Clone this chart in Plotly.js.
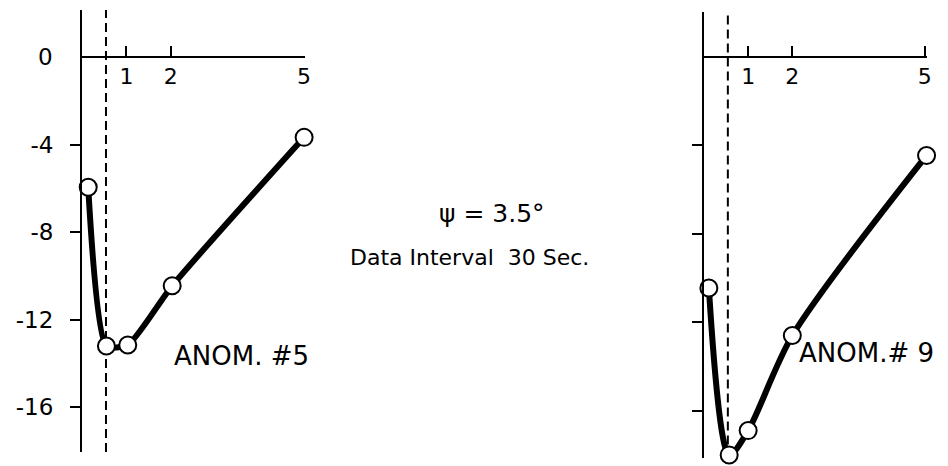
<!DOCTYPE html>
<html>
<head>
<meta charset="utf-8">
<script src="https://cdn.plot.ly/plotly-3.0.1.min.js"></script>
<style>html,body{margin:0;padding:0;background:#fff;}#chart{width:948px;height:466px;}</style>
</head>
<body>
<div id="chart"></div>
<script>
// Data
const xTickVals = [1, 2, 5];
const xTickText = ['1', '2', '5'];
const yTickVals = [-4, -8, -12, -16];
const yTickText = ['-4', '-8', '-12', '-16'];
const dashedAt = 0.54;

const xAnom5 = [0.14, 0.55, 1.03, 2.03, 5.0];
const yAnom5 = [-5.95, -13.2, -13.15, -10.45, -3.67];
const xAnom9 = [0.11, 0.57, 1.0, 2.0, 5.04];
const yAnom9 = [-10.45, -18.0, -16.9, -12.6, -4.45];

const labelAnom5 = 'ANOM. #5';
const labelAnom9 = 'ANOM.# 9';
const titleLine1 = 'ψ = 3.5°';
const titleLine2 = 'Data Interval  30 Sec.';

const W = 948, H = 466;
const FONT = 'DejaVu Sans, sans-serif';
const px = v => v / W;
const py = v => 1 - v / H;

function series(x, y, xa, ya, smooth) {
  return {
    x: x, y: y, xaxis: xa, yaxis: ya,
    type: 'scatter', mode: 'lines+markers',
    line: {color: '#000', width: 6, shape: 'spline', smoothing: smooth},
    marker: {symbol: 'circle', size: 17, color: '#fff', line: {color: '#000', width: 2}},
    cliponaxis: false, hoverinfo: 'skip', showlegend: false
  };
}

const xCommon = {
  anchor: 'free', position: py(57),
  showline: true, linecolor: '#000', linewidth: 2,
  ticks: 'inside', ticklen: 10, tickwidth: 2, tickcolor: '#000',
  tickvals: xTickVals, ticktext: xTickText,
  tickfont: {family: FONT, size: 22, color: '#000'},
  showgrid: false, zeroline: false, fixedrange: true
};
const yCommon = {
  showline: true, linecolor: '#000', linewidth: 2,
  ticks: 'outside', ticklen: 10, tickwidth: 2, tickcolor: '#000',
  tickvals: yTickVals, ticktext: yTickText,
  tickfont: {family: FONT, size: 23, color: '#000'},
  ticklabelstandoff: 12,
  showgrid: false, zeroline: false, fixedrange: true
};

const layout = {
  width: W, height: H,
  margin: {l: 0, r: 0, t: 0, b: 0},
  paper_bgcolor: '#fff', plot_bgcolor: 'rgba(0,0,0,0)',
  showlegend: false,
  xaxis: Object.assign({}, xCommon, {domain: [px(82), px(305)], range: [0, 5.02]}),
  yaxis: Object.assign({}, yCommon, {domain: [py(452), py(10)], range: [-18.04, 2.146], anchor: 'x'}),
  xaxis2: Object.assign({}, xCommon, {domain: [px(704), px(927)], range: [0, 5.05]}),
  yaxis2: Object.assign({}, yCommon, {domain: [py(458), py(12)], range: [-18.14, 2.04], anchor: 'x2', showticklabels: false}),
  shapes: [
    {type: 'line', xref: 'x', yref: 'y domain', x0: dashedAt, x1: dashedAt, y0: 0, y1: 1,
     line: {color: '#000', width: 2, dash: '9px,5px'}, layer: 'below'},
    {type: 'line', xref: 'x2', yref: 'y2 domain', x0: dashedAt, x1: dashedAt, y0: 0.03, y1: 1,
     line: {color: '#000', width: 2, dash: '9px,5px'}, layer: 'below'}
  ],
  annotations: [
    {text: '0', xref: 'paper', yref: 'y', x: px(55), y: 0, xanchor: 'right', yanchor: 'middle',
     showarrow: false, font: {family: FONT, size: 23, color: '#000'}},
    {text: labelAnom5, xref: 'paper', yref: 'paper', x: px(172), y: py(356), xanchor: 'left', yanchor: 'middle',
     showarrow: false, font: {family: FONT, size: 26, color: '#000'}},
    {text: labelAnom9, xref: 'paper', yref: 'paper', x: px(797), y: py(353), xanchor: 'left', yanchor: 'middle',
     showarrow: false, font: {family: FONT, size: 26, color: '#000'}},
    {text: titleLine1, xref: 'paper', yref: 'paper', x: px(492), y: py(213), xanchor: 'center', yanchor: 'middle',
     showarrow: false, font: {family: FONT, size: 25, color: '#000'}},
    {text: titleLine2, xref: 'paper', yref: 'paper', x: px(469), y: py(257), xanchor: 'center', yanchor: 'middle',
     showarrow: false, font: {family: FONT, size: 22, color: '#000'}}
  ]
};

Plotly.newPlot('chart', [
  series(xAnom5, yAnom5, 'x', 'y', 0.6),
  series(xAnom9, yAnom9, 'x2', 'y2', 0.8)
], layout, {staticPlot: true, displayModeBar: false});
</script>
</body>
</html>
